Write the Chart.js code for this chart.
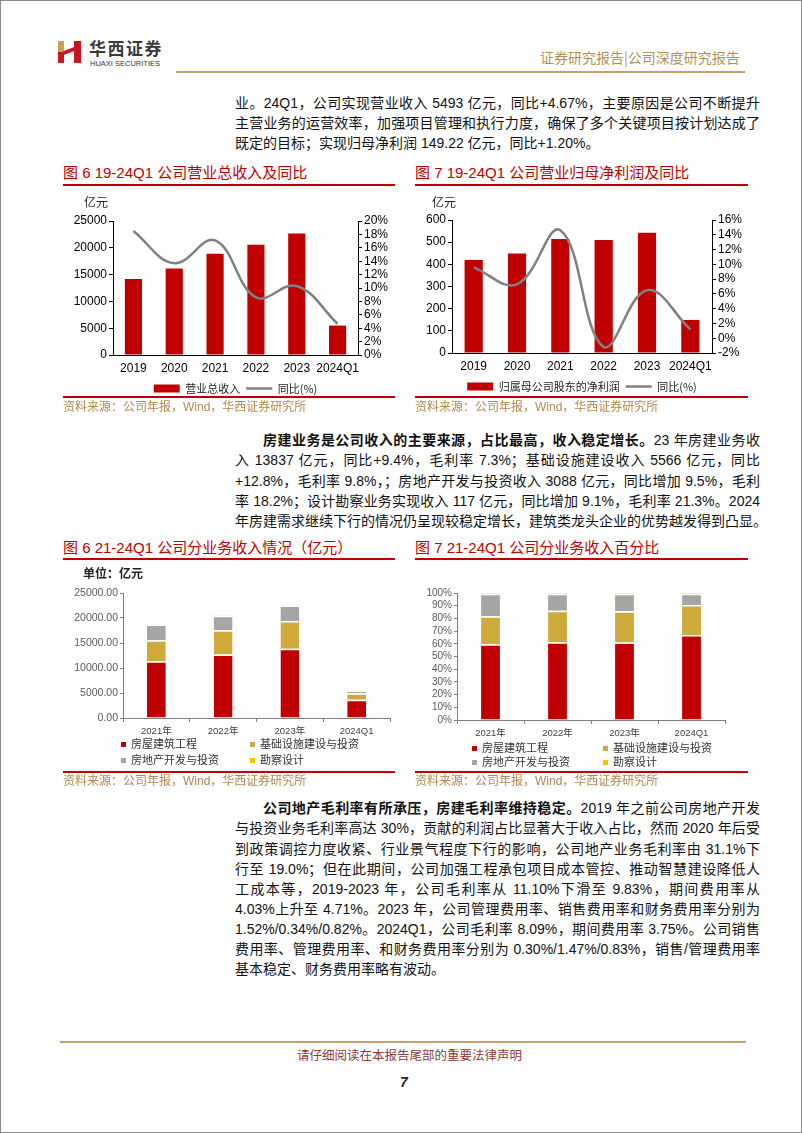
<!DOCTYPE html>
<html lang="zh-CN">
<head>
<meta charset="utf-8">
<script src="https://cdn.jsdelivr.net/npm/chart.js@4.4.1/dist/chart.umd.min.js"></script>
<style>
html,body{margin:0;padding:0;background:#fff;}
#page{position:relative;width:802px;height:1133px;overflow:hidden;font-family:"Liberation Sans","Noto Sans CJK SC",sans-serif;}
.frame{position:absolute;left:0;top:0;width:802px;height:1133px;box-sizing:border-box;border:1px solid #8a8a8a;pointer-events:none;}
.p{position:absolute;left:235px;width:525px;font-size:14px;line-height:20px;height:20px;color:#111;text-align:justify;text-align-last:justify;white-space:nowrap;}
.p.last{text-align-last:left;}
.p.ind{text-indent:28px;}
.title{position:absolute;font-size:15px;color:#C00000;line-height:18px;white-space:nowrap;}
.rl{position:absolute;height:2px;background:#C00000;}
.src{position:absolute;font-size:12px;color:#B08850;line-height:14px;white-space:nowrap;}
.cv{position:absolute;}
.unit{position:absolute;font-size:12px;color:#222;line-height:14px;white-space:nowrap;}
.leg{position:absolute;font-size:11px;color:#333;line-height:14px;white-space:nowrap;font-family:"Noto Sans CJK SC",sans-serif;}
.leg i{display:inline-block;width:5px;height:5px;margin-right:5px;vertical-align:middle;position:relative;top:-1px;}
</style>
</head>
<body>
<div id="page">
  <!-- header logo -->
  <div style="position:absolute;left:58px;top:41px;width:6px;height:11px;background:#C8A060;"></div>
  <div style="position:absolute;left:58px;top:52px;width:6px;height:11px;background:#C8161D;"></div>
  <div style="position:absolute;left:74px;top:41px;width:7px;height:22px;background:#C8161D;"></div>
  <div style="position:absolute;left:63px;top:49px;width:12px;height:4px;background:#C8161D;transform:skewY(-20deg);"></div>
  <div style="position:absolute;left:89px;top:38px;font-size:17px;font-weight:700;color:#3a3a3a;line-height:20px;font-family:'Noto Sans CJK SC',sans-serif;letter-spacing:1.5px;">华西证券</div>
  <div style="position:absolute;left:90px;top:59px;font-size:7.5px;color:#333;line-height:9px;white-space:nowrap;">HUAXI SECURITIES</div>
  <div style="position:absolute;left:540px;top:48px;font-size:14px;color:#B0905A;line-height:18px;white-space:nowrap;font-family:'Noto Sans CJK SC',sans-serif;">证券研究报告|公司深度研究报告</div>
  <div style="position:absolute;left:176px;top:71px;width:569px;height:2px;background:#C9A064;"></div>

  <!-- paragraph 1 -->
  <div class="p" style="top:93px;">业。24Q1，公司实现营业收入 5493 亿元，同比+4.67%，主要原因是公司不断提升</div>
  <div class="p" style="top:113px;">主营业务的运营效率，加强项目管理和执行力度，确保了多个关键项目按计划达成了</div>
  <div class="p last" style="top:133px;">既定的目标；实现归母净利润 149.22 亿元，同比+1.20%。</div>

  <!-- chart 1/2 titles -->
  <div class="title" style="left:63px;top:164px;">图 6 19-24Q1 公司营业总收入及同比</div>
  <div class="title" style="left:415px;top:164px;">图 7 19-24Q1 公司营业归母净利润及同比</div>

  <div class="cv" style="left:63px;top:190px;"><canvas id="c1" width="332" height="214"></canvas></div>
  <div class="cv" style="left:413px;top:190px;"><canvas id="c2" width="335" height="212"></canvas></div>
  <div class="unit" style="left:84px;top:196px;">亿元</div>
  <div class="unit" style="left:432px;top:196px;">亿元</div>

  <div class="rl" style="left:63px;top:184px;width:332px;"></div>
  <div class="rl" style="left:415px;top:184px;width:333px;"></div>
  <div class="rl" style="left:63px;top:396px;width:332px;"></div>
  <div class="rl" style="left:415px;top:396px;width:333px;"></div>
  <div class="src" style="left:63px;top:400px;">资料来源：公司年报，Wind，华西证券研究所</div>
  <div class="src" style="left:415px;top:400px;">资料来源：公司年报，Wind，华西证券研究所</div>

  <!-- paragraph 2 -->
  <div class="p ind" style="top:430px;"><b>房建业务是公司收入的主要来源，占比最高，收入稳定增长。</b>23 年房建业务收</div>
  <div class="p" style="top:450px;">入 13837 亿元，同比+9.4%，毛利率 7.3%；基础设施建设收入 5566 亿元，同比</div>
  <div class="p" style="top:471px;">+12.8%，毛利率 9.8%，；房地产开发与投资收入 3088 亿元，同比增加 9.5%，毛利</div>
  <div class="p" style="top:491px;">率 18.2%；设计勘察业务实现收入 117 亿元，同比增加 9.1%，毛利率 21.3%。2024</div>
  <div class="p" style="top:511px;">年房建需求继续下行的情况仍呈现较稳定增长，建筑类龙头企业的优势越发得到凸显。</div>

  <!-- chart 3/4 titles -->
  <div class="title" style="left:63px;top:539px;">图 6 21-24Q1 公司分业务收入情况（亿元）</div>
  <div class="title" style="left:415px;top:539px;">图 7 21-24Q1 公司分业务收入百分比</div>

  <div class="cv" style="left:63px;top:565px;"><canvas id="c3" width="332" height="173"></canvas></div>
  <div class="cv" style="left:413px;top:565px;"><canvas id="c4" width="335" height="175"></canvas></div>
  <div class="unit" style="left:83px;top:566px;font-weight:700;font-family:'Noto Sans CJK SC',sans-serif;">单位：亿元</div>

  <div class="leg" id="l3a" style="left:121px;top:736px;"></div>
  <div class="leg" id="l3b" style="left:250px;top:736px;"></div>
  <div class="leg" id="l3c" style="left:121px;top:752px;"></div>
  <div class="leg" id="l3d" style="left:250px;top:752px;"></div>
  <div class="leg" id="l4a" style="left:472px;top:740px;"></div>
  <div class="leg" id="l4b" style="left:603px;top:740px;"></div>
  <div class="leg" id="l4c" style="left:472px;top:754px;"></div>
  <div class="leg" id="l4d" style="left:603px;top:754px;"></div>

  <div class="rl" style="left:63px;top:558px;width:332px;"></div>
  <div class="rl" style="left:415px;top:558px;width:333px;"></div>
  <div class="rl" style="left:63px;top:771px;width:332px;"></div>
  <div class="rl" style="left:415px;top:771px;width:333px;"></div>
  <div class="src" style="left:63px;top:774px;">资料来源：公司年报，Wind，华西证券研究所</div>
  <div class="src" style="left:415px;top:774px;">资料来源：公司年报，Wind，华西证券研究所</div>

  <!-- paragraph 3 -->
  <div class="p ind" style="top:798px;"><b>公司地产毛利率有所承压，房建毛利率维持稳定。</b>2019 年之前公司房地产开发</div>
  <div class="p" style="top:818px;">与投资业务毛利率高达 30%，贡献的利润占比显著大于收入占比，然而 2020 年后受</div>
  <div class="p" style="top:839px;">到政策调控力度收紧、行业景气程度下行的影响，公司地产业务毛利率由 31.1%下</div>
  <div class="p" style="top:859px;">行至 19.0%；但在此期间，公司加强工程承包项目成本管控、推动智慧建设降低人</div>
  <div class="p" style="top:879px;">工成本等，2019-2023 年，公司毛利率从 11.10%下滑至 9.83%，期间费用率从</div>
  <div class="p" style="top:899px;">4.03%上升至 4.71%。2023 年，公司管理费用率、销售费用率和财务费用率分别为</div>
  <div class="p" style="top:919px;">1.52%/0.34%/0.82%。2024Q1，公司毛利率 8.09%，期间费用率 3.75%。公司销售</div>
  <div class="p" style="top:939px;">费用率、管理费用率、和财务费用率分别为 0.30%/1.47%/0.83%，销售/管理费用率</div>
  <div class="p last" style="top:959px;">基本稳定、财务费用率略有波动。</div>

  <!-- footer -->
  <div style="position:absolute;left:60px;top:1041px;width:686px;height:2px;background:#C9A064;"></div>
  <div style="position:absolute;left:297px;top:1047px;font-size:12.5px;color:#8B3A3A;line-height:16px;white-space:nowrap;font-family:'Noto Sans CJK SC',sans-serif;">请仔细阅读在本报告尾部的重要法律声明</div>
  <div style="position:absolute;left:400px;top:1074px;font-size:14px;font-weight:700;font-style:italic;color:#2a1a1a;line-height:16px;">7</div>

  <div class="frame"></div>
</div>

<script>
// ---- data ----
const years = ['2019', '2020', '2021', '2022', '2023', '2024Q1'];
const revenue = [14198, 16150, 18913, 20550, 22655, 5493];
const revenueYoY = [18.5, 13.7, 17.1, 8.6, 10.3, 4.67];
const netProfit = [419, 449, 514, 510, 543, 149.22];
const netProfitYoY = [9.6, 7.3, 14.6, -1.2, 6.5, 1.2];

const segYears = ['2021年', '2022年', '2023年', '2024Q1'];
const segNames = ['房屋建筑工程', '基础设施建设与投资', '房地产开发与投资', '勘察设计'];
const segBuilding = [11360, 12700, 13837, 3650];
const segInfra = [4180, 4870, 5566, 1320];
const segRealEstate = [3180, 2860, 3088, 440];
const segDesign = [104, 110, 117, 25];

const shareBuilding = [59.6, 61.2, 61.1, 66.9];
const shareInfra = [22.0, 24.9, 24.6, 23.7];
const shareRealEstate = [17.9, 13.4, 13.8, 8.9];
const shareDesign = [0.5, 0.5, 0.5, 0.5];

const revenueAxis = {min: 0, max: 25000, step: 5000};
const revenueYoYAxis = {min: 0, max: 20, step: 2};
const profitAxis = {min: 0, max: 600, step: 100};
const profitYoYAxis = {min: -2, max: 16, step: 2};
const segAxis = {min: 0, max: 25000, step: 5000};
const shareAxis = {min: 0, max: 100, step: 10};

// ---- styles ----
const RED = '#C00000', GOLD = '#CDAA3A', GRAY = '#A5A5A5', YEL = '#FFC000', LINE = '#808080';
const segColors = [RED, GOLD, GRAY, YEL];

Chart.defaults.font.family = '"Liberation Sans","Noto Sans CJK SC",sans-serif';
Chart.defaults.animation = false;

function legendLabels(chart) {
  const items = Chart.defaults.plugins.legend.labels.generateLabels(chart);
  items.forEach(it => {
    const ds = chart.data.datasets[it.datasetIndex];
    if (ds.type === 'line') {
      it.pointStyle = 'line'; it.strokeStyle = ds.borderColor; it.lineWidth = 2.5;
    } else {
      it.pointStyle = 'rect'; it.fillStyle = ds.backgroundColor; it.strokeStyle = ds.backgroundColor; it.lineWidth = 0;
    }
  });
  return items.sort((a, b) => a.datasetIndex - b.datasetIndex);
}

function comboChart(id, labels, barName, barData, lineData, leftAx, rightAx, leftW, rightW, padTop) {
  const tickFont = {size: 12};
  return new Chart(document.getElementById(id), {
    data: {
      labels: labels,
      datasets: [
        {type: 'bar', label: barName, data: barData, backgroundColor: RED, yAxisID: 'y',
         barPercentage: 0.7, categoryPercentage: 0.6, order: 1},
        {type: 'line', label: '同比(%)', data: lineData, borderColor: LINE, backgroundColor: LINE,
         borderWidth: 2.5, pointRadius: 0, tension: 0.4, yAxisID: 'y1', order: 0, clip: false}
      ]
    },
    options: {
      responsive: false,
      devicePixelRatio: 1,
      layout: {padding: {top: padTop, bottom: 0, left: 0, right: 0}},
      plugins: {
        tooltip: {enabled: false},
        legend: {
          position: 'bottom', fullSize: false,
          labels: {usePointStyle: true, pointStyleWidth: 26, boxHeight: 8, padding: 6,
                   color: '#222', font: {size: 11, family: '"Noto Sans CJK SC",sans-serif'},
                   generateLabels: legendLabels}
        }
      },
      scales: {
        x: {
          grid: {display: false, drawTicks: false, tickLength: 0}, border: {display: true, color: '#000'},
          ticks: {font: tickFont, color: '#000', padding: 6, maxRotation: 0, autoSkip: false},
          afterFit(s) { s.height = 22; }
        },
        y: {
          position: 'left', min: leftAx.min, max: leftAx.max,
          ticks: {stepSize: leftAx.step, font: tickFont, color: '#000', padding: 2, autoSkip: false,
                  callback: v => String(v)},
          grid: {drawOnChartArea: false, tickLength: 4, color: '#000'},
          border: {color: '#000'},
          afterFit(s) { s.width = leftW; }
        },
        y1: {
          position: 'right', min: rightAx.min, max: rightAx.max,
          ticks: {stepSize: rightAx.step, font: tickFont, color: '#000', padding: 2, autoSkip: false,
                  callback: v => v + '%'},
          grid: {drawOnChartArea: false, tickLength: 4, color: '#000'},
          border: {color: '#000'},
          afterFit(s) { s.width = rightW; }
        }
      }
    }
  });
}

comboChart('c1', years, '营业总收入', revenue, revenueYoY, revenueAxis, revenueYoYAxis, 50, 37, 31);
comboChart('c2', years, '归属母公司股东的净利润', netProfit, netProfitYoY, profitAxis, profitYoYAxis, 39, 36, 30);

function stackChart(id, seriesList, ax, leftW, rightPad, tickCb, yFont) {
  return new Chart(document.getElementById(id), {
    type: 'bar',
    data: {
      labels: segYears,
      datasets: seriesList.map((d, i) => ({
        label: segNames[i], data: d, backgroundColor: segColors[i],
        borderColor: '#ffffff', borderWidth: {top: 1.5, left: 0, right: 0, bottom: 0}, borderSkipped: false,
        barPercentage: 0.6, categoryPercentage: 0.47
      }))
    },
    options: {
      responsive: false,
      devicePixelRatio: 1,
      layout: {padding: {top: 28, bottom: 0, left: 0, right: rightPad}},
      plugins: {legend: {display: false}, tooltip: {enabled: false}},
      scales: {
        x: {
          stacked: true,
          grid: {display: true, drawOnChartArea: false, offset: true, tickLength: 4, color: '#7f7f7f'},
          border: {color: '#7f7f7f'},
          ticks: {font: {size: 9.5}, color: '#404040', padding: 4, maxRotation: 0, autoSkip: false},
          afterFit(s) { s.height = 20; }
        },
        y: {
          stacked: true, min: ax.min, max: ax.max,
          ticks: {stepSize: ax.step, font: {size: yFont}, color: '#595959', padding: 2, autoSkip: false,
                  callback: tickCb},
          grid: {drawOnChartArea: false, tickLength: 3, color: '#7f7f7f'},
          border: {color: '#7f7f7f'},
          afterFit(s) { s.width = leftW; }
        }
      }
    }
  });
}

stackChart('c3', [segBuilding, segInfra, segRealEstate, segDesign], segAxis, 60, 5, v => v.toFixed(2), 10.5);
stackChart('c4', [shareBuilding, shareInfra, shareRealEstate, shareDesign], shareAxis, 44, 23, v => v + '%', 10);

// HTML legends for stacked charts (2 x 2 grid)
['3', '4'].forEach(n => {
  ['a', 'b', 'c', 'd'].forEach((k, i) => {
    const el = document.getElementById('l' + n + k);
    el.innerHTML = '<i style="background:' + segColors[i] + '"></i>' + segNames[i];
  });
});
</script>
</body>
</html>
